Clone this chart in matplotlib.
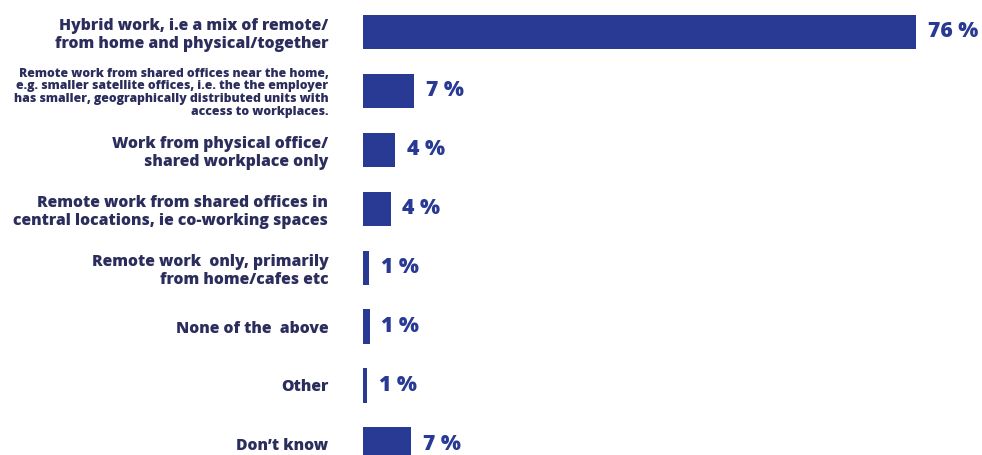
import matplotlib.pyplot as plt

# Survey answers and their shares (%)
categories = [
    "Hybrid work, i.e a mix of remote/\nfrom home and physical/together",
    "Remote work from shared offices near the home,\ne.g. smaller satellite offices, i.e. the the employer\nhas smaller, geographically distributed units with\naccess to workplaces.",
    "Work from physical office/\nshared workplace only",
    "Remote work from shared offices in\ncentral locations, ie co-working spaces",
    "Remote work  only, primarily\nfrom home/cafes etc",
    "None of the  above",
    "Other",
    "Don\u2019t know",
]
shares = [76.0, 7.0, 4.4, 3.8, 0.8, 0.9, 0.55, 6.6]

bar_color = "#283A93"
text_color = "#2B2D5C"

plt.rcParams["font.family"] = ["Open Sans", "DejaVu Sans"]

fig = plt.figure(figsize=(9.82, 4.55), dpi=100)
ax = fig.add_axes([363 / 982, 0, 619 / 982, 1])

ypos = list(range(len(categories)))
ax.barh(ypos, shares, height=0.58, color=bar_color)

for y, v in zip(ypos, shares):
    ax.annotate(f"{round(v)} %", (v, y), xytext=(8.5, 0), textcoords="offset points",
                ha="left", va="center", fontsize=15.2, fontweight="heavy", color=bar_color)

ax.set_yticks(ypos)
ax.set_yticklabels(categories, fontsize=11.35, fontweight="heavy", color=text_color)
ax.tick_params(axis="y", length=0, pad=25)
ax.set_xticks([])

# the long answer is set smaller and tighter
long_lbl = ax.get_yticklabels()[1]
long_lbl.set_fontsize(8.8)
long_lbl.set_linespacing(1.1)

ax.set_xlim(0, 85)
ax.set_ylim(7.18, -0.543)
for s in ax.spines.values():
    s.set_visible(False)

fig.savefig("out.png", dpi=100)
